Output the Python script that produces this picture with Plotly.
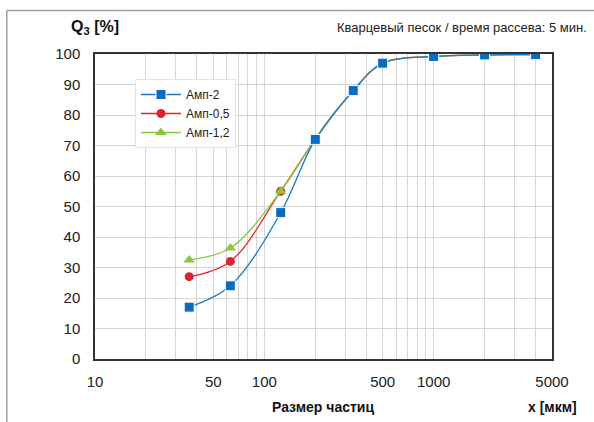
import plotly.graph_objects as go

# particle size, µm
sizes = [36, 63, 125, 200, 335, 500, 1000, 2000, 4000]

# cumulative passing Q3, %
amp_2 = [17, 24, 48, 72, 88, 97, 99.2, 99.7, 99.8]
amp_05 = [27, 32, 55, 72, 88, 97, 99.2, 99.7, 99.8]
amp_12 = [32.5, 36.4, 55, 72, 88, 97, 99.2, 99.7, 99.8]

x_labels = {10: "10", 50: "50", 100: "100", 500: "500", 1000: "1000", 5000: "5000"}
x_grid = [m * d for d in (10, 100, 1000) for m in range(1, 10)] + [5000]

fig = go.Figure()

# red and green first so the blue squares sit on top
fig.add_trace(go.Scatter(
    x=sizes, y=amp_05, name="Амп-0,5", legendrank=2,
    mode="lines+markers", line=dict(color="#e3202a", width=1.3, shape="spline", smoothing=1),
    marker=dict(symbol="circle", size=9, color="#e3202a"),
))
fig.add_trace(go.Scatter(
    x=sizes, y=amp_12, name="Амп-1,2", legendrank=3,
    mode="lines+markers", line=dict(color="#8dc63f", width=1.3, shape="spline", smoothing=1),
    marker=dict(symbol="triangle-up", size=10, color="#8dc63f"),
))
fig.add_trace(go.Scatter(
    x=sizes, y=amp_2, name="Амп-2", legendrank=1,
    mode="lines+markers", line=dict(color="#1a78c8", width=1.3, shape="spline", smoothing=1),
    marker=dict(symbol="square", size=10, color="#0a6cbf", line=dict(color="white", width=1)),
))

fig.update_layout(
    width=594, height=422,
    margin=dict(l=95, r=42, t=54, b=63),
    plot_bgcolor="white", paper_bgcolor="white",
    font=dict(family="Liberation Sans, Arial, sans-serif", size=15, color="#222"),
    showlegend=True,
    legend=dict(
        x=0.0875, y=0.918, xanchor="left", yanchor="top",
        bgcolor="white", bordercolor="#e4e4e4", borderwidth=1,
        font=dict(size=12, color="#222"),
        itemwidth=40, tracegroupgap=0,
    ),
    xaxis=dict(
        type="log", range=[1, 3.699],
        tickvals=x_grid, ticktext=[x_labels.get(v, "") for v in x_grid],
        showgrid=True, gridcolor="#d6d6d6", gridwidth=1,
        showline=True, linecolor="#333", linewidth=1.5, mirror=True,
        ticks="", ticklabelstandoff=8, zeroline=False,
    ),
    yaxis=dict(
        range=[0, 100], dtick=10,
        showgrid=True, gridcolor="#d6d6d6", gridwidth=1,
        showline=True, linecolor="#333", linewidth=1.5, mirror=True,
        ticks="", ticklabelstandoff=10, zeroline=False,
    ),
    annotations=[
        dict(text="<b>Q<sub>3</sub> [%]</b>", xref="paper", yref="paper",
             x=0.0, y=1.05, xanchor="center", yanchor="bottom", showarrow=False,
             font=dict(size=16, color="#111")),
        dict(text="Кварцевый песок / время рассева: 5 мин.", xref="paper", yref="paper",
             x=1.08, y=1.055, xanchor="right", yanchor="bottom", showarrow=False,
             font=dict(size=13, color="#222")),
        dict(text="<b>Размер частиц</b>", xref="paper", yref="paper",
             x=0.499, y=-0.125, xanchor="center", yanchor="top", showarrow=False,
             font=dict(size=14, color="#111")),
        dict(text="<b>x [мкм]</b>", xref="paper", yref="paper",
             x=1.06, y=-0.125, xanchor="right", yanchor="top", showarrow=False,
             font=dict(size=14, color="#111")),
    ],
    shapes=[
        # outer chart frame (only top and left edges fall inside the picture)
        dict(type="line", xref="paper", yref="paper",
             x0=-0.193, x1=1.1, y0=1.143, y1=1.143,
             line=dict(color="#a0a0a0", width=1.5)),
        dict(type="line", xref="paper", yref="paper",
             x0=-0.193, x1=-0.193, y0=1.143, y1=-0.25,
             line=dict(color="#a0a0a0", width=1.5)),
    ],
)

fig.write_html("out.html", config={"displayModeBar": False},
               post_script="document.body.style.margin='0';")
